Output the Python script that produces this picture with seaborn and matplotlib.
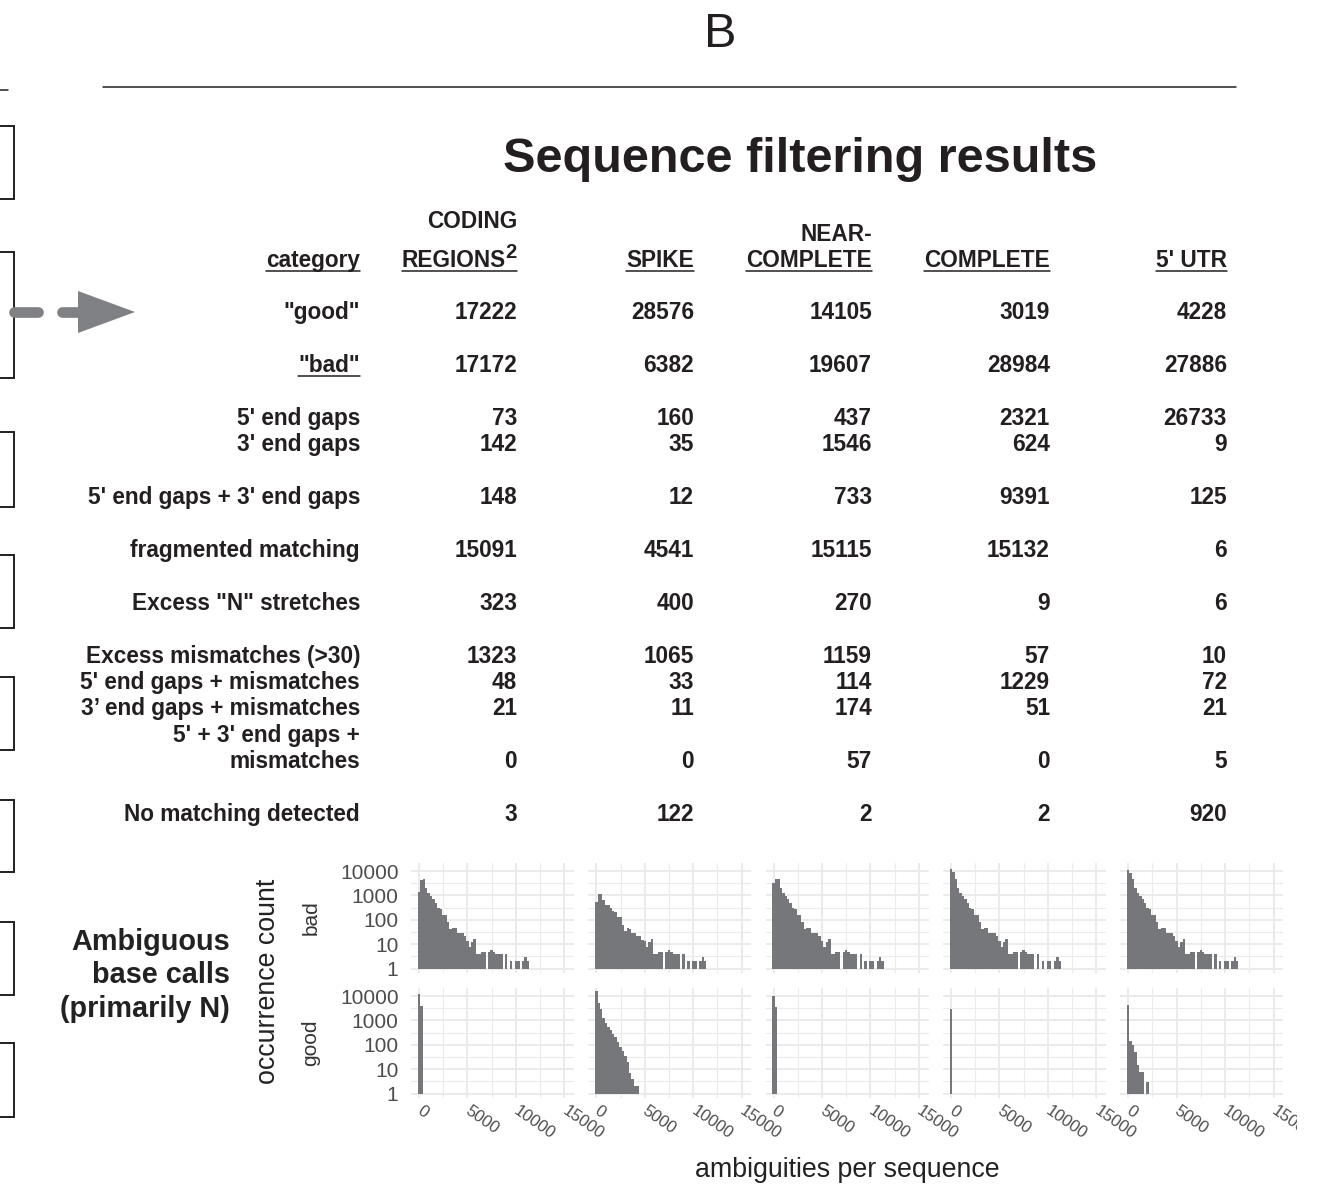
import numpy as np
import pandas as pd
import matplotlib
matplotlib.use("Agg")
import matplotlib.pyplot as plt
import matplotlib.transforms as mtransforms
import seaborn as sns
from matplotlib.lines import Line2D
from matplotlib.patches import Polygon
from matplotlib.ticker import FixedLocator, NullFormatter

# ---------------- data ----------------
columns = ["CODING REGIONS", "SPIKE", "NEAR-COMPLETE", "COMPLETE", "5' UTR"]

cat_good = [17222, 28576, 14105, 3019, 4228]
cat_bad = [17172, 6382, 19607, 28984, 27886]
gaps_5 = [73, 160, 437, 2321, 26733]
gaps_3 = [142, 35, 1546, 624, 9]
gaps_53 = [148, 12, 733, 9391, 125]
fragmented = [15091, 4541, 15115, 15132, 6]
excess_n = [323, 400, 270, 9, 6]
excess_mm = [1323, 1065, 1159, 57, 10]
gaps5_mm = [48, 33, 114, 1229, 72]
gaps3_mm = [21, 11, 174, 51, 21]
gaps53_mm = [0, 0, 57, 0, 5]
no_match = [3, 122, 2, 2, 920]

row_labels = ['"good"', '"bad"', "5' end gaps", "3' end gaps",
              "5' end gaps + 3' end gaps", "fragmented matching",
              'Excess "N" stretches', "Excess mismatches (>30)",
              "5' end gaps + mismatches", "3\u2019 end gaps + mismatches",
              "mismatches", "No matching detected"]
row_values = [cat_good, cat_bad, gaps_5, gaps_3, gaps_53, fragmented,
              excess_n, excess_mm, gaps5_mm, gaps3_mm, gaps53_mm, no_match]

# histogram counts per 250-ambiguity bin (bin i centred on i*250)
bad_coding = [1400, 4400, 4800, 2100, 1250, 970, 710, 480, 300, 275, 160, 160,
              85, 41, 48, 45, 30, 28, 30, 22, 14, 8, 12, 16,
              4, 4, 5, 5, 1, 5, 6, 5, 4, 4, 4, 1, 4, 0, 2, 0, 2, 2, 0, 2, 3, 2,
              1, 1, 0, 1, 0, 1, 1, 0, 1, 0, 1, 0, 0, 1]
bad_spike = [520, 1200, 1100, 660, 410, 390, 300, 220, 200, 130, 130, 62,
             35, 45, 41, 28, 30, 22, 22, 15, 14, 8, 12, 16,
             4, 4, 5, 5, 1, 5, 6, 5, 4, 4, 4, 1, 4, 0, 2, 0, 2, 2, 0, 2, 3, 2,
             1, 1, 0, 1, 0, 1, 1, 0, 1, 0, 1, 0, 0, 1]
bad_near = [3200, 4700, 4700, 2100, 1250, 970, 710, 500, 300, 275, 160, 160,
            85, 41, 48, 45, 30, 28, 30, 22, 14, 8, 12, 16,
            4, 4, 5, 5, 1, 5, 6, 5, 4, 4, 4, 1, 4, 0, 2, 0, 2, 2, 0, 2, 3, 2,
            1, 1, 0, 1, 0, 1, 1, 0, 1, 0, 1, 0, 0, 1]
bad_complete = [12500, 9100, 4800, 2100, 1250, 970, 710, 480, 300, 275, 160, 160,
                85, 41, 48, 45, 30, 28, 30, 22, 14, 8, 12, 16,
                4, 4, 5, 5, 1, 5, 6, 5, 4, 4, 4, 1, 4, 0, 2, 0, 2, 2, 0, 2, 3, 2,
                1, 1, 0, 1, 0, 1, 1, 0, 1, 0, 1, 0, 0, 1]
bad_utr5 = [11000, 8300, 4800, 2100, 1250, 970, 710, 480, 300, 275, 160, 160,
            85, 41, 48, 45, 30, 28, 30, 22, 14, 8, 12, 16,
            4, 4, 5, 5, 1, 5, 6, 5, 4, 4, 4, 1, 4, 0, 2, 0, 2, 2, 0, 2, 3, 2,
            1, 1, 0, 1, 0, 1, 1, 0, 1, 0, 1, 0, 0, 1]

good_coding = [12700, 4000]
good_spike = [15500, 5100, 3000, 1250, 780, 530, 390, 275, 200, 130, 85, 57,
              36, 19, 7, 4, 2, 2]
good_near = [10500, 3600]
good_complete = [2900]
good_utr5 = [4200, 137, 94, 53, 15, 8, 8, 1, 3, 0, 1, 0, 1, 0, 1]

bad_hists = [bad_coding, bad_spike, bad_near, bad_complete, bad_utr5]
good_hists = [good_coding, good_spike, good_near, good_complete, good_utr5]

y_ticks = [1, 10, 100, 1000, 10000]
y_ticklabels = ["1", "10", "100", "1000", "10000"]
x_ticks = [0, 5000, 10000, 15000]
x_ticklabels = ["0", "5000", "10000", "15000"]
BIN = 250

rows = []
for ci, (b, g) in enumerate(zip(bad_hists, good_hists)):
    for status, counts in (("bad", b), ("good", g)):
        for i, n in enumerate(counts):
            if n > 0:
                rows.append((columns[ci], status, i * BIN, n))
df = pd.DataFrame(rows, columns=["region", "status", "ambiguities", "count"])

# ---------------- style ----------------
sns.set_style("white")
FONT = "Liberation Sans"
plt.rcParams["font.family"] = [FONT, "DejaVu Sans"]
INK = "#231F20"
GRAYTXT = "#4D4D4D"
BAR = "#76777A"
GRID = "#EBEBEB"
ARROW = "#808184"

W, H = 1317, 1184
fig = plt.figure(figsize=(W / 100, H / 100), dpi=100)
fig.patch.set_facecolor("white")


def fx(x):
    return x / W


def fy(y):
    return 1 - y / H


def txt(x, y, s, size=16.3, ha="right", weight="bold", color=INK, **kw):
    return fig.text(fx(x), fy(y), s, ha=ha, va="baseline", fontsize=size,
                    fontweight=weight, family=[FONT, "DejaVu Sans"], color=color, **kw)


# ---------------- decorations ----------------
txt(720, 47, "B", size=35, ha="center", weight="normal")
fig.add_artist(Line2D([fx(103), fx(1236)], [fy(87), fy(87)], color=INK, lw=1.1))
fig.add_artist(Line2D([fx(0), fx(8)], [fy(90), fy(90)], color=INK, lw=1.1))

boxes = [(126, 199), (252, 378), (432, 507), (555, 628), (677, 750),
         (800, 872), (922, 995), (1043, 1117)]
for t, b in boxes:
    fig.add_artist(Line2D([fx(0), fx(14), fx(14), fx(0)],
                          [fy(t), fy(t), fy(b), fy(b)], color=INK, lw=1.4,
                          solid_joinstyle="miter"))

# dashed arrow
fig.add_artist(Line2D([fx(14), fx(38)], [fy(312), fy(312)], color=ARROW, lw=7.7,
                      solid_capstyle="round"))
fig.add_artist(Line2D([fx(62), fx(84)], [fy(312), fy(312)], color=ARROW, lw=7.7,
                      solid_capstyle="round"))
fig.add_artist(Polygon([[fx(78), fy(291)], [fx(78), fy(333)], [fx(135), fy(312)]],
                       closed=True, transform=fig.transFigure, color=ARROW, lw=0))

# title
txt(800, 172, "Sequence filtering results", size=35, ha="center")

# ---------------- table ----------------
COLS_X = [517, 694, 872, 1050, 1227]
LABEL_X = 360
HEAD_BASE = 267
underlined = []

underlined.append(txt(LABEL_X, HEAD_BASE, "category"))
txt(COLS_X[0], 228, "CODING")
two = txt(COLS_X[0], HEAD_BASE - 9, "2", size=14.5)
fig.canvas.draw()
renderer = fig.canvas.get_renderer()
w2 = two.get_window_extent(renderer).width
reg = txt(COLS_X[0] - w2, HEAD_BASE, "REGIONS")
underlined.append((reg, two))
underlined.append(txt(COLS_X[1], HEAD_BASE, "SPIKE"))
txt(COLS_X[2], 241, "NEAR-")
underlined.append(txt(COLS_X[2], HEAD_BASE, "COMPLETE"))
underlined.append(txt(COLS_X[3], HEAD_BASE, "COMPLETE"))
underlined.append(txt(COLS_X[4], HEAD_BASE, "5' UTR"))

row_centres = [311, 364, 417, 443, 496, 549, 602, 655, 681, 707, 760, 813]
bad_label = None
for lab, yc, vals in zip(row_labels, row_centres, row_values):
    base = yc + 8
    t = txt(LABEL_X, base, lab)
    if lab == '"bad"':
        bad_label = t
    for x, v in zip(COLS_X, vals):
        txt(x, base, f"{v}")
txt(LABEL_X, 734 + 8, "5' + 3' end gaps +")

fig.canvas.draw()


def underline(items, y_px, lw=1.1):
    if not isinstance(items, tuple):
        items = (items,)
    x0 = min(i.get_window_extent(renderer).x0 for i in items)
    x1 = max(i.get_window_extent(renderer).x1 for i in items)
    fig.add_artist(Line2D([x0 / W, x1 / W], [fy(y_px), fy(y_px)], color=INK, lw=lw))


for it in underlined:
    underline(it, HEAD_BASE + 3.5)
underline(bad_label, 364 + 8 + 3.5)

# ---------------- histograms ----------------
PANEL_W, PANEL_H = 163, 110
statuses = ["bad", "good"]
shift = mtransforms.ScaledTranslation(4 / 100, 0, fig.dpi_scale_trans)
clip_bbox = mtransforms.Bbox([[0, 0], [1297, H]])
for r, status in enumerate(statuses):
    for c, region in enumerate(columns):
        left = 411 + 177.3 * c
        bottom = 973 + 125 * r
        ax = fig.add_axes([fx(left), fy(bottom), PANEL_W / W, PANEL_H / H])
        sub = df[(df.region == region) & (df.status == status)]
        sns.histplot(data=sub, x="ambiguities", weights="count",
                     binwidth=BIN, binrange=(-BIN / 2, 16000 - BIN / 2),
                     color=BAR, alpha=1, linewidth=0, ax=ax)
        ax.set_yscale("log")
        for p in ax.patches:
            h = p.get_height()
            if h > 0:
                p.set_y(1)
                p.set_height(max(h - 1, 0))
        ax.set_xlim(-826, 16000)
        ax.set_ylim(0.66, 21400)
        ax.set_facecolor("white")
        for s in ax.spines.values():
            s.set_visible(False)
        ax.yaxis.set_major_locator(FixedLocator(y_ticks))
        ax.yaxis.set_minor_locator(FixedLocator([3.162, 31.62, 316.2, 3162]))
        ax.yaxis.set_minor_formatter(NullFormatter())
        ax.xaxis.set_major_locator(FixedLocator(x_ticks))
        ax.xaxis.set_minor_locator(FixedLocator([2500, 7500, 12500]))
        ax.grid(which="major", color=GRID, lw=1.4)
        ax.grid(which="minor", color=GRID, lw=0.8)
        ax.set_axisbelow(True)
        ax.tick_params(which="both", length=0)
        ax.set_xlabel("")
        ax.set_ylabel("")
        if c == 0:
            ax.set_yticklabels(y_ticklabels)
            ax.tick_params(axis="y", pad=9, labelsize=15, labelcolor=GRAYTXT)
        else:
            ax.set_yticklabels([])
        if r == 1:
            ax.set_xticklabels(x_ticklabels)
            ax.tick_params(axis="x", pad=3.5, labelsize=12, labelcolor=GRAYTXT)
            for lab in ax.get_xticklabels():
                lab.set_rotation(-35)
                lab.set_ha("left")
                lab.set_rotation_mode("anchor")
                lab.set_transform(lab.get_transform() + shift)
                if c == len(columns) - 1:
                    lab.set_clip_box(clip_bbox)
                    lab.set_clip_on(True)
        else:
            ax.set_xticklabels([])

# strip labels and axis titles
fig.text(fx(311), fy(918), "bad", rotation=90, ha="center", va="center",
         fontsize=15, color="#333333")
fig.text(fx(311), fy(1043), "good", rotation=90, ha="center", va="center",
         fontsize=15, color="#333333")
fig.text(fx(268), fy(981), "occurrence count", rotation=90, ha="center",
         va="center", fontsize=19.3, color="#222222")
fig.text(fx(847.5), fy(1170), "ambiguities per sequence", ha="center",
         va="center", fontsize=19.3, color="#222222")

for y, s in zip([950, 983, 1017], ["Ambiguous", "base calls", "(primarily N)"]):
    txt(230, y, s, size=20.8, color="#222222")

fig.savefig("out.png", dpi=100, facecolor="white")
